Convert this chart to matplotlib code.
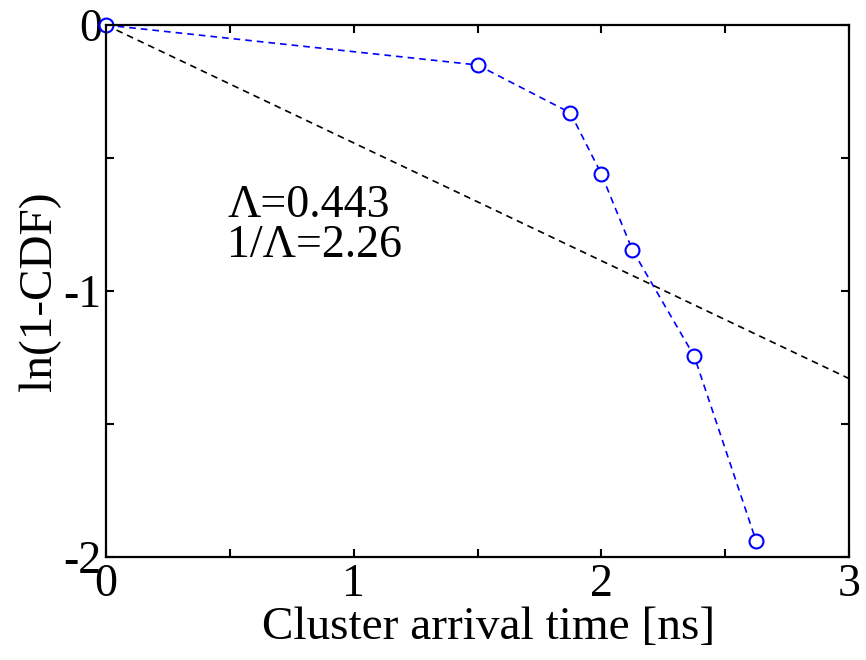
import matplotlib
matplotlib.use('Agg')
import matplotlib.pyplot as plt
import numpy as np

# measured points
t = [0.0, 1.5, 1.875, 2.0, 2.125, 2.375, 2.625]
ln_ccdf = [0.0, -0.15, -0.33, -0.56, -0.845, -1.245, -1.94]

# fitted exponential
lam = 0.443
fit_t = [0.0, 3.0]

plt.rcParams['font.family'] = ['Liberation Serif', 'DejaVu Serif']

fig = plt.figure(figsize=(8.66, 6.6), dpi=100)
ax = fig.add_axes([0.1224, 0.156, 0.858, 0.806])

ax.plot(fit_t, [-lam * x for x in fit_t], color='black', ls=(0, (4, 3)), lw=1.2)
ax.plot(t, ln_ccdf, color='blue', ls=(0, (4, 3)), lw=1.2, marker='o',
        markersize=10, markerfacecolor='white', markeredgewidth=1.5, clip_on=False)

ax.set_xlim(0, 3)
ax.set_ylim(-2, 0)
ax.set_xticks([0, 1, 2, 3])
ax.set_xticks([0.5, 1.5, 2.5], minor=True)
ax.set_yticks([-2, -1, 0])
ax.set_yticks([-1.5, -0.5], minor=True)
ax.set_yticklabels(['-2', '-1', '0'])
ax.tick_params(which='both', direction='in', top=True, right=True,
               length=6, width=1.5, labelsize=33)
ax.tick_params(axis='x', pad=5)
ax.tick_params(axis='y', pad=3)
for s in ax.spines.values():
    s.set_linewidth(1.6)

ax.set_xlabel('Cluster arrival time [ns]', fontsize=34, labelpad=0)
ax.xaxis.label.set_x(0.515)
ax.set_ylabel('ln(1-CDF)', fontsize=34, labelpad=2)

ax.text(0.49, -0.68, '\u039b=0.443', fontsize=33, va='center')
ax.text(0.49, -0.83, '1/\u039b=2.26', fontsize=33, va='center')

fig.savefig('out.png', dpi=100)
